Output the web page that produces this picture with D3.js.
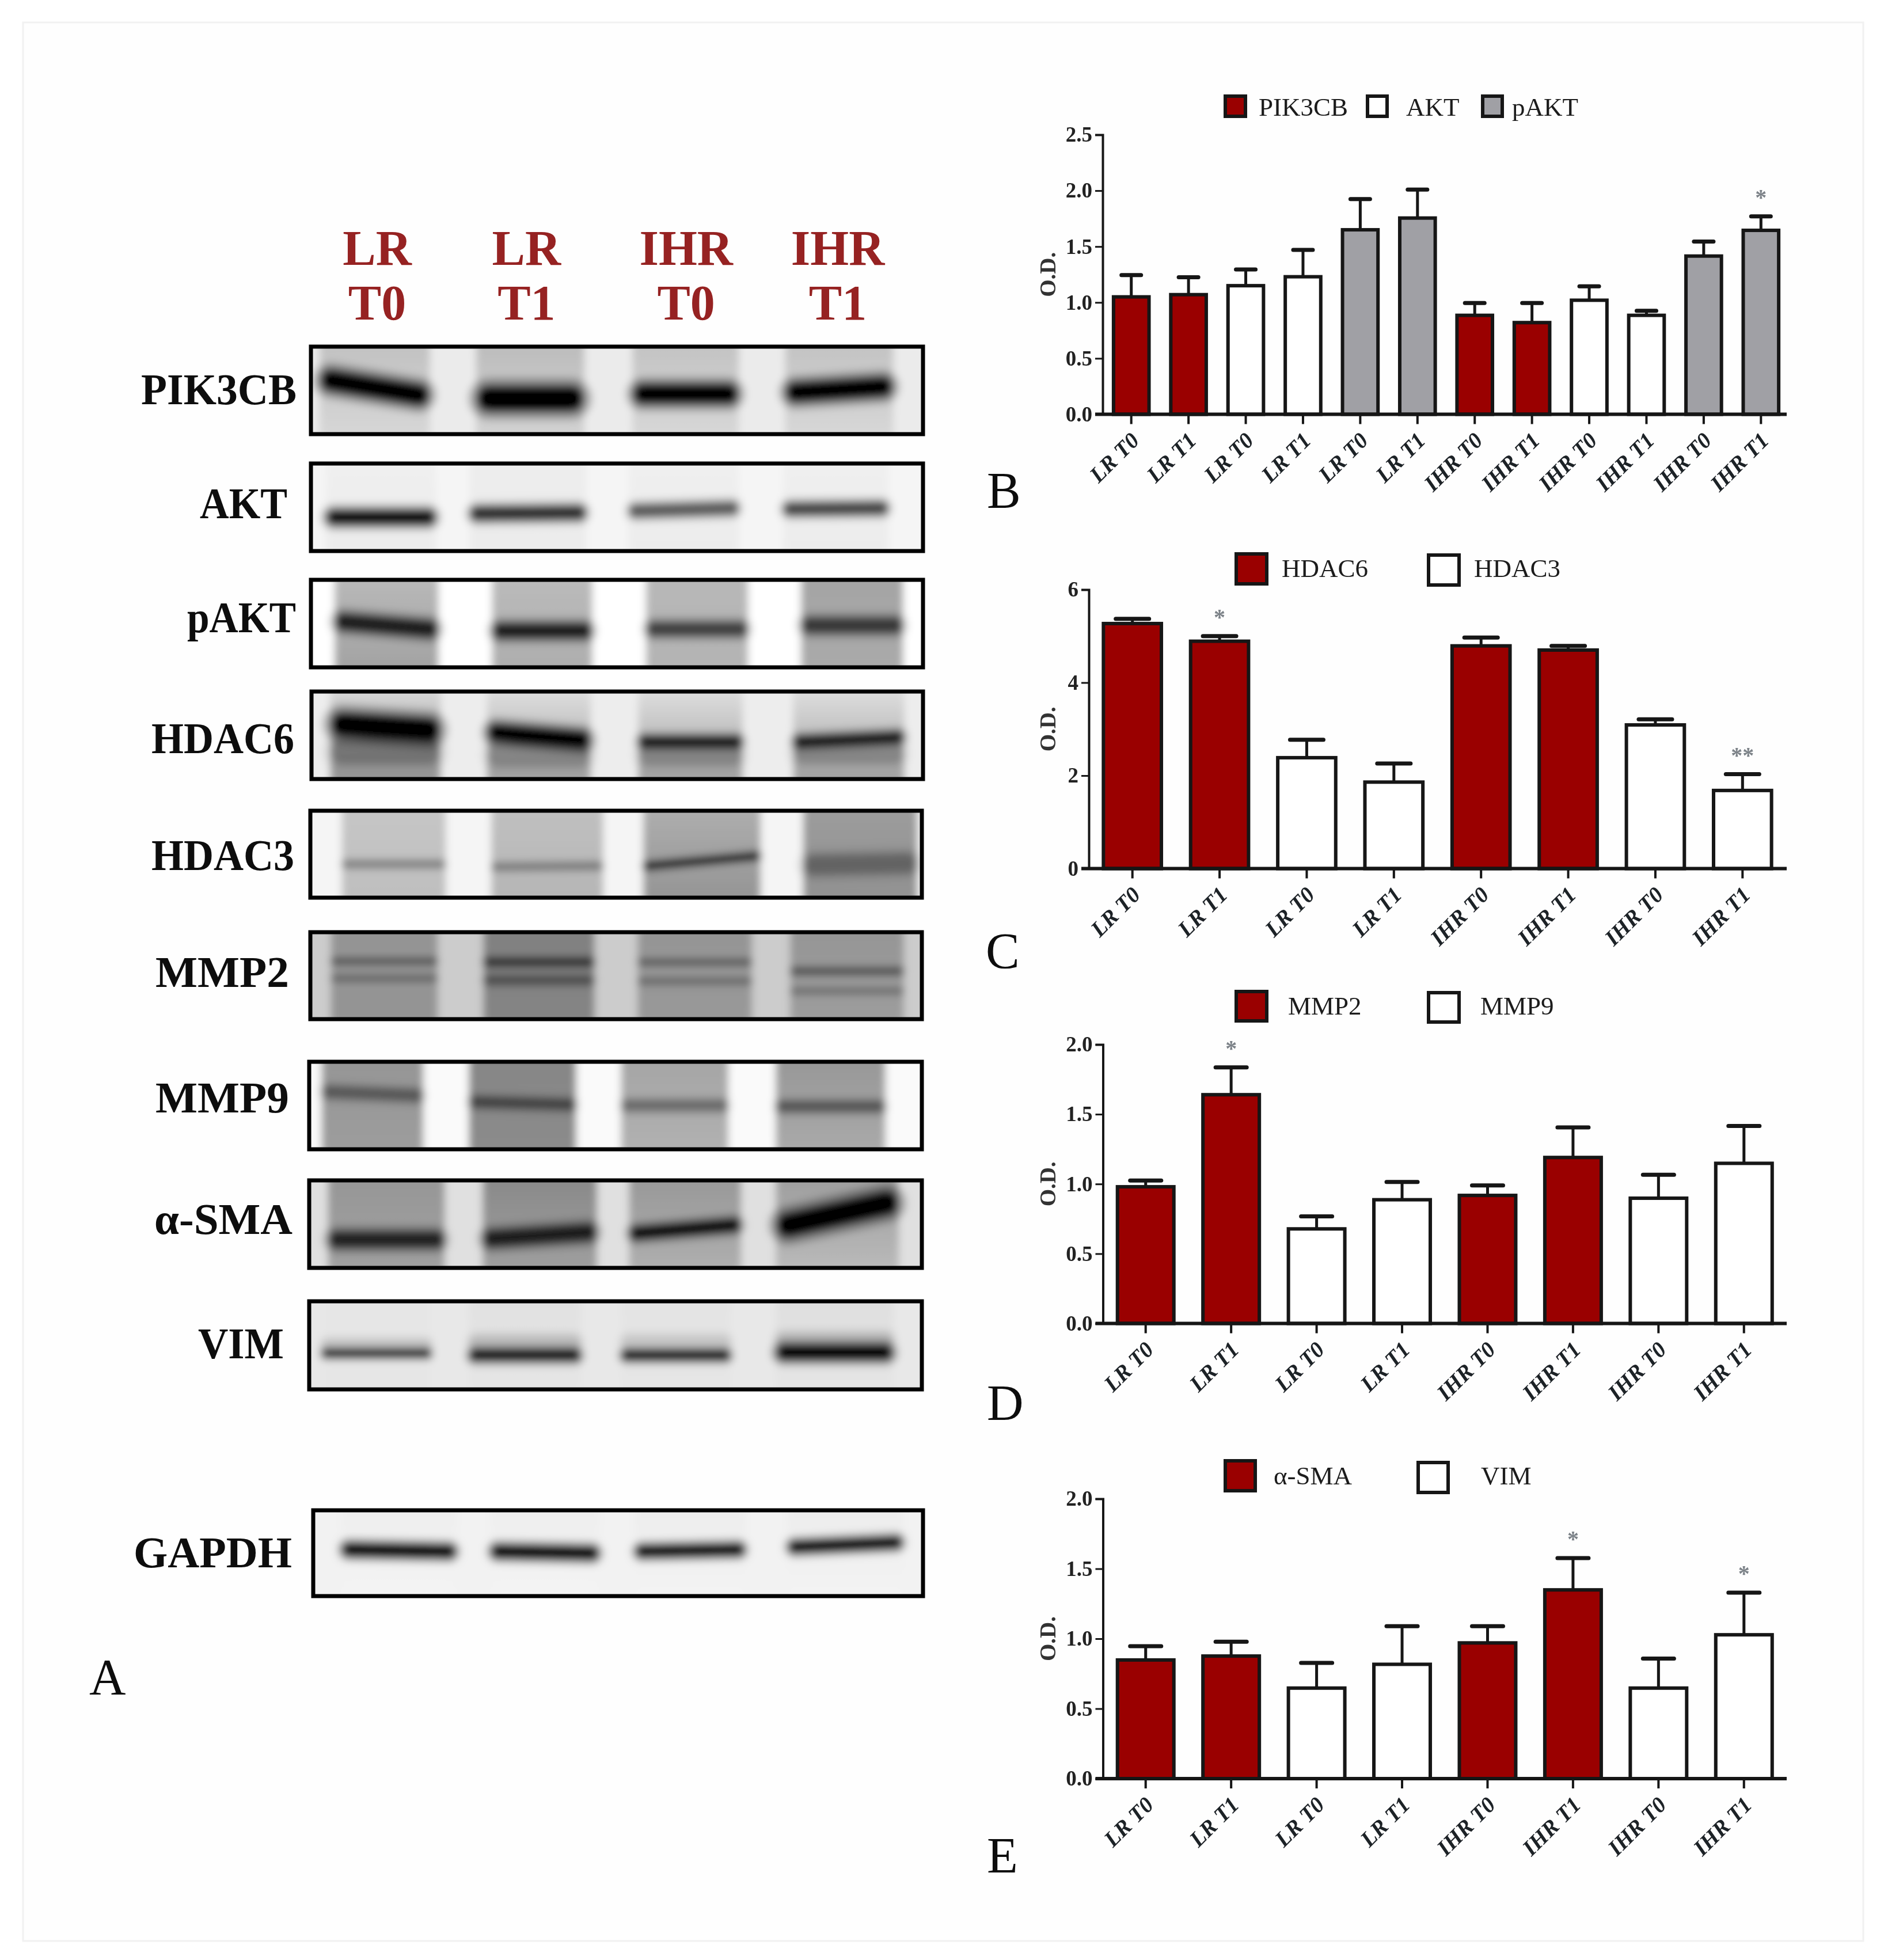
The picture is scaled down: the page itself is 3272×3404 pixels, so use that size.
<!DOCTYPE html>
<html>
<head>
<meta charset="utf-8">
<script src="https://cdnjs.cloudflare.com/ajax/libs/d3/7.8.5/d3.min.js"></script>
<style>
  html, body { margin:0; padding:0; background:#fff; }
  svg { display:block; }
  text { font-family:"Liberation Serif", serif; }
</style>
</head>
<body>
<svg id="fig" width="3272" height="3404"></svg>
<script>

const bCategories = ["LR T0","LR T1","LR T0","LR T1","LR T0","LR T1","IHR T0","IHR T1","IHR T0","IHR T1","IHR T0","IHR T1"];
const bSeries = ["PIK3CB","AKT","pAKT"];
const bGroup = [0,0,1,1,2,2,0,0,1,1,2,2];
const bValues = [1.05,1.07,1.15,1.23,1.65,1.755,0.885,0.82,1.02,0.885,1.415,1.645];
const bUpper = [1.245,1.225,1.295,1.47,1.925,2.01,0.995,0.995,1.145,0.925,1.545,1.77];
const bStars = ["","","","","","","","","","","","*"];
const bTicks = [0,0.5,1,1.5,2,2.5];

const cdeCategories = ["LR T0","LR T1","LR T0","LR T1","IHR T0","IHR T1","IHR T0","IHR T1"];
const cdeGroup = [0,0,1,1,0,0,1,1];

const cSeries = ["HDAC6","HDAC3"];
const cValues = [5.27,4.89,2.385,1.86,4.79,4.70,3.09,1.68];
const cUpper = [5.37,5.0,2.77,2.26,4.97,4.79,3.21,2.03];
const cStars = ["","*","","","","","","**"];
const cTicks = [0,2,4,6];

const dSeries = ["MMP2","MMP9"];
const dValues = [0.98,1.64,0.678,0.887,0.918,1.19,0.898,1.148];
const dUpper = [1.025,1.836,0.768,1.014,0.99,1.406,1.066,1.416];
const dStars = ["","*","","","","","",""];

const eSeries = ["\u03b1-SMA","VIM"];
const eValues = [0.848,0.876,0.647,0.817,0.97,1.349,0.647,1.028];
const eUpper = [0.946,0.978,0.827,1.089,1.089,1.576,0.858,1.329];
const eStars = ["","","","","","*","","*"];
const deTicks = [0,0.5,1,1.5,2];

// blots: lane edges and band migration in percent of the gel width / height, tones 0..1
const laneHeads = [["LR","T0"],["LR","T1"],["IHR","T0"],["IHR","T1"]];
const blotNames = ["PIK3CB","AKT","pAKT","HDAC6","HDAC3","MMP2","MMP9","\u03b1-SMA","VIM","GAPDH"];
const blotBackground = [0.08,0.04,0,0.07,0.04,0.2,0.02,0.12,0.09,0.05];
const blotLanes = [
  [[1.7,19.6],[27.1,44.7],[52.5,69.8],[77.3,94.9]],
  [[2.7,20.6],[26.1,45],[51.9,69.8],[77,94.1]],
  [[4.1,21],[29.7,46],[54.7,71.3],[79.9,96.5]],
  [[3.3,21.3],[28.8,45.7],[53.4,70.4],[78.6,96.7]],
  [[5.4,22.3],[29.7,47.9],[54.4,73.5],[80.4,99]],
  [[3.6,21],[28.4,46.5],[53.5,72.1],[78.3,96.8]],
  [[2.3,18.8],[26.2,43.6],[50.9,68.3],[76,93.8]],
  [[3.3,22.3],[28.4,47],[52.2,70.4],[76,96]],
  [[2.3,20.1],[26.2,44.4],[50.9,68.7],[76,95.1]],
  [[4.9,23.6],[29.2,46.9],[52.8,70.7],[77.7,96.4]]
];
const blotLaneTone = [
  [[0.26,0.14],[0.28,0.16],[0.25,0.14],[0.25,0.14]],
  [[0.06,0.08],[0.07,0.08],[0.06,0.08],[0.06,0.08]],
  [[0.26,0.38],[0.26,0.33],[0.28,0.3],[0.36,0.33]],
  [[0.1,0.48],[0.08,0.42],[0.08,0.42],[0.08,0.42]],
  [[0.22,0.26],[0.24,0.3],[0.3,0.44],[0.38,0.44]],
  [[0.42,0.42],[0.5,0.48],[0.42,0.4],[0.42,0.38]],
  [[0.42,0.38],[0.48,0.45],[0.36,0.3],[0.42,0.32]],
  [[0.42,0.36],[0.48,0.36],[0.42,0.3],[0.4,0.25]],
  [[0.1,0.1],[0.12,0.1],[0.11,0.1],[0.13,0.1]],
  [[0.07,0.04],[0.07,0.04],[0.08,0.04],[0.08,0.04]]
];
// lane, top left, top right, thickness, density
const blotBands = [
  [[0,39,55,18,1],[1,59,59,21,1],[2,54,54,17,1],[3,52,46,17,1]],
  [[0,61,61,13,0.9],[1,57,56,12,0.75],[2,54,51,11,0.55],[3,52,51,11,0.65]],
  [[0,48,56,14,0.8],[1,58,58,13,0.78],[2,56,56,12,0.58],[3,52,52,13,0.6]],
  [[0,38,44,20,1],[1,47,55,15,1],[2,57,57,10,0.85],[3,57,52,10,0.85],
   [0,68,68,20,0.25],[1,72,72,18,0.2],[2,72,72,16,0.2],[3,70,70,16,0.2]],
  [[0,61,61,6,0.3],[1,64,63,6,0.3],[2,63,52,6,0.95],[3,62,60,16,0.28]],
  [[0,34,34,5,0.4],[0,53,53,5,0.28],[1,35,35,7,0.58],[1,55,55,7,0.38],
   [2,35,35,5,0.36],[2,56,56,5,0.28],[3,45,45,6,0.42],[3,67,67,5,0.25]],
  [[0,35,39,10,0.36],[1,46,49,9,0.45],[2,50,50,9,0.32],[3,51,51,9,0.42]],
  [[0,67,67,14,0.72],[1,66,59,14,0.78],[2,60,51,11,0.95],[3,51,27,20,1]],
  [[0,59,59,7,0.85],[1,61,61,10,0.95],[2,61,61,9,0.9],[3,58,58,13,1],
   [0,50,50,10,0.12],[1,47,47,12,0.14],[2,47,47,12,0.1],[3,44,44,12,0.15]],
  [[0,46,48,12,1],[1,48,50,12,1],[2,48,46,11,1],[3,43,38,11,1]]
];

const RED = "#9a0000", GREY = "#a0a0a5", INK = "#141414";
const seriesFill = [RED, "#ffffff", GREY];
const secondFill = [RED, "#ffffff"];

let svg = d3.select("#fig");
let defs = svg.append("defs");
let tone = d3.scaleLinear().domain([0,1]).range(["#ffffff","#000000"]);

defs.append("filter").attr("id","soft").attr("x","-2%").attr("y","-2%").attr("width","104%").attr("height","104%")
    .append("feGaussianBlur").attr("stdDeviation",0.7);
defs.append("filter").attr("id","gel").attr("x","-5%").attr("y","-20%").attr("width","110%").attr("height","140%")
    .append("feGaussianBlur").attr("stdDeviation",7);

svg.append("rect").attr("width",3272).attr("height",3404).attr("fill","#ffffff");
svg.append("rect").attr("x",40).attr("y",39).attr("width",3196).attr("height",3332)
    .attr("fill","#fefefe").attr("stroke","#f1f1f1").attr("stroke-width",3);

let root = svg.append("g").attr("filter","url(#soft)");

// ---- panel A ----

// outer box of each blot
const blotBox = [
  [537,599,1606,757],[537,802,1606,960],[537,1004,1606,1162],[538,1198,1606,1356],
  [536,1405,1604,1562],[536,1616,1604,1773],[534,1841,1604,1999],[534,2047,1604,2205],
  [534,2257,1604,2416],[541,2620,1606,2775]
];
const blotLabelAt = [[515,702],[499,900],[514,1098],[511,1308],[511,1511],[502,1714],[502,1932],[508,2143],[493,2359],[507,2722]];
const blotLabelWidth = [270,152,189,248,248,232,232,240,149,275];

function draw_blot( i ){
    let box = blotBox[i];
    let x = d3.scaleLinear().domain([0,100]).range([box[0],box[2]]);
    let y = d3.scaleLinear().domain([0,100]).range([box[1],box[3]]);

    let clipId = "clip"+i;
    defs.append("clipPath").attr("id",clipId).append("rect")
        .attr("x",x(0)).attr("y",y(0)).attr("width",x(100)-x(0)).attr("height",y(100)-y(0));

    let g = root.append("g").attr("clip-path","url(#"+clipId+")");
    let gel = g.append("g").attr("filter","url(#gel)");

    gel.append("rect").attr("x",x(-5)).attr("y",y(-20)).attr("width",x(110)-x(0)).attr("height",y(140)-y(0))
        .attr("fill",tone(blotBackground[i]));

    blotLanes[i].forEach( function(l,j){
        let gid = "lane"+i+"_"+j;
        let grad = defs.append("linearGradient").attr("id",gid).attr("x1",0).attr("x2",0).attr("y1",0).attr("y2",1);
        grad.append("stop").attr("offset","0%").attr("stop-color",tone(blotLaneTone[i][j][0]));
        grad.append("stop").attr("offset","100%").attr("stop-color",tone(blotLaneTone[i][j][1]));
        gel.append("rect").attr("x",x(l[0])).attr("y",y(-20)).attr("width",x(l[1])-x(l[0])).attr("height",y(140)-y(0))
            .attr("fill","url(#"+gid+")");
    });

    let line = d3.line();
    // faint halo first, then the band itself
    [[2.2,0.28],[1.4,1]].forEach( function(pass){
        gel.append("g").selectAll("path").data(blotBands[i]).enter().append("path")
            .attr("d", function(b){
                let l = blotLanes[i][b[0]], w = (y(b[3])-y(0))*1.4;
                return line([[x(l[0])+w/2,y(b[1])],[x(l[1])-w/2,y(b[2])]]);
            })
            .attr("fill","none")
            .attr("stroke","#000000")
            .attr("stroke-opacity",function(b){ return b[4]*pass[1]; })
            .attr("stroke-linecap","round")
            .attr("stroke-width",function(b){ return (y(b[3])-y(0))*pass[0]; });
    });

    root.append("rect").attr("x",x(0)+3).attr("y",y(0)+3)
        .attr("width",x(100)-x(0)-6).attr("height",y(100)-y(0)-6)
        .attr("fill","none").attr("stroke","#050505").attr("stroke-width",7);

    root.append("text").attr("x",blotLabelAt[i][0]).attr("y",blotLabelAt[i][1])
        .attr("text-anchor","end").attr("font-weight","bold").attr("font-size",76)
        .attr("textLength",blotLabelWidth[i]).attr("lengthAdjust","spacingAndGlyphs")
        .attr("fill","#0a0a0a").text(blotNames[i]);
}
blotNames.forEach( function(n,i){ draw_blot(i); });

const headX = d3.scalePoint().domain(d3.range(4)).range([655,1460]);
const headShift = [0,-9,0,-5];
laneHeads.forEach( function(h,i){
    h.forEach( function(t,k){
        root.append("text").attr("x",headX(i)+headShift[i]).attr("y",460+k*95)
            .attr("text-anchor","middle").attr("font-weight","bold").attr("font-size",86)
            .attr("fill","#962320").text(t);
    });
});

// ---- bar panels ----

function draw_bars( o ){
    let y = d3.scaleLinear().domain([0,o.ticks[o.ticks.length-1]]).range([o.y0,o.y1]);
    let x = d3.scaleBand().domain(d3.range(o.cats.length)).range(o.xr).paddingInner(o.pad).paddingOuter(o.pad/2);
    let g = root.append("g");

    let ya = d3.axisLeft(y).tickValues(o.ticks).tickSize(13).tickPadding(5)
        .tickFormat(o.fmt);
    let yg = g.append("g").attr("transform","translate("+o.xr[0]+",0)").call(ya);
    yg.select(".domain").attr("stroke",INK).attr("stroke-width",4);
    yg.selectAll(".tick line").attr("stroke",INK).attr("stroke-width",3);
    yg.selectAll("text").attr("font-family","Liberation Serif").attr("font-size",37).attr("font-weight","bold")
        .attr("fill","#222222");

    let xa = d3.axisBottom(x).tickSize(17).tickSizeOuter(0).tickFormat(function(i){ return o.cats[i]; });
    let xg = g.append("g").attr("transform","translate(0,"+o.y0+")").call(xa);
    xg.select(".domain").remove();
    xg.selectAll(".tick line").attr("stroke",INK).attr("stroke-width",4);
    xg.selectAll("text")
        .attr("font-family","Liberation Serif").attr("font-size",39).attr("font-weight","bold").attr("font-style","italic")
        .attr("fill","#1c2026")
        .attr("text-anchor","end")
        .attr("y",0).attr("dy",0)
        .attr("transform","translate(16,"+o.labelDrop+") rotate(-45)");

    let err = g.append("g").selectAll("g").data(o.values).enter().append("g");
    err.append("line")
        .attr("x1",function(d,i){ return x(i)+x.bandwidth()/2; })
        .attr("x2",function(d,i){ return x(i)+x.bandwidth()/2; })
        .attr("y1",function(d){ return y(d); })
        .attr("y2",function(d,i){ return y(o.upper[i]); })
        .attr("stroke",INK).attr("stroke-width",5);
    err.append("line")
        .attr("x1",function(d,i){ return x(i)+x.bandwidth()/2-o.cap; })
        .attr("x2",function(d,i){ return x(i)+x.bandwidth()/2+o.cap; })
        .attr("y1",function(d,i){ return y(o.upper[i]); })
        .attr("y2",function(d,i){ return y(o.upper[i]); })
        .attr("stroke",INK).attr("stroke-width",7).attr("stroke-linecap","round");

    g.append("g").selectAll("rect").data(o.values).enter().append("rect")
        .attr("x",function(d,i){ return x(i); })
        .attr("width",x.bandwidth())
        .attr("y",function(d){ return y(d); })
        .attr("height",function(d){ return y(0)-y(d); })
        .attr("fill",function(d,i){ return o.fills[o.group[i]]; })
        .attr("stroke",INK).attr("stroke-width",6);

    g.append("line").attr("x1",o.xr[0]-13).attr("x2",3103).attr("y1",o.y0).attr("y2",o.y0)
        .attr("stroke",INK).attr("stroke-width",6);

    g.append("g").selectAll("text").data(o.stars).enter().append("text")
        .attr("x",function(d,i){ return x(i)+x.bandwidth()/2; })
        .attr("y",function(d,i){ return y(o.upper[i])-20; })
        .attr("text-anchor","middle").attr("font-size",40).attr("font-weight","bold")
        .attr("fill","#7c8288")
        .text(function(d){ return d; });

    g.append("text")
        .attr("transform","translate(1833,"+((o.y0+o.y1)/2)+") rotate(-90)")
        .attr("text-anchor","middle").attr("font-size",39).attr("font-weight","bold")
        .attr("fill","#333333").text("O.D.");

    // legend
    o.legend.forEach( function(l,i){
        g.append("rect").attr("x",l.box[0]+3).attr("y",l.box[1]+3)
            .attr("width",l.box[2]-l.box[0]-6).attr("height",l.box[3]-l.box[1]-6)
            .attr("fill",o.fills[i]).attr("stroke",INK).attr("stroke-width",6);
        g.append("text").attr("x",l.tx).attr("y",l.ty).attr("font-size",45).attr("fill","#1a1a1a").text(o.series[i]);
    });

    root.append("text").attr("x",o.letter[0]).attr("y",o.letter[1]).attr("font-size",88).attr("fill","#0a0a0a").text(o.letterText);
}

draw_bars({ cats:bCategories, group:bGroup, values:bValues, upper:bUpper, stars:bStars, ticks:bTicks, series:bSeries,
    fills:seriesFill, fmt:d3.format(".1f"), y0:719.5, y1:234, xr:[1915,3108], pad:0.38, cap:17, labelDrop:48,
    legend:[ {box:[2125,164,2166,205],tx:2186,ty:201},{box:[2372,164,2412,205],tx:2442,ty:201},{box:[2572,164,2612,205],tx:2626,ty:201} ],
    letter:[1714,881], letterText:"B" });

draw_bars({ cats:cdeCategories, group:cdeGroup, values:cValues, upper:cUpper, stars:cStars, ticks:cTicks, series:cSeries,
    fills:secondFill, fmt:d3.format("d"), y0:1508.5, y1:1024, xr:[1891,3102], pad:0.335, cap:29, labelDrop:48,
    legend:[ {box:[2144,959,2203,1017],tx:2226,ty:1002},{box:[2478,961,2537,1019],tx:2560,ty:1002} ],
    letter:[1712,1681], letterText:"C" });

draw_bars({ cats:cdeCategories, group:cdeGroup, values:dValues, upper:dUpper, stars:dStars, ticks:deTicks, series:dSeries,
    fills:secondFill, fmt:d3.format(".1f"), y0:2298.5, y1:1814, xr:[1915.5,3103], pad:0.34, cap:27, labelDrop:48,
    legend:[ {box:[2144,1719,2203,1776],tx:2237,ty:1762},{box:[2478,1721,2537,1778],tx:2571,ty:1762} ],
    letter:[1714,2466], letterText:"D" });

draw_bars({ cats:cdeCategories, group:cdeGroup, values:eValues, upper:eUpper, stars:eStars, ticks:deTicks, series:eSeries,
    fills:secondFill, fmt:d3.format(".1f"), y0:3089, y1:2603, xr:[1915.5,3103], pad:0.34, cap:27, labelDrop:48,
    legend:[ {box:[2125,2534,2183,2592],tx:2212,ty:2578},{box:[2460,2537,2518,2595],tx:2572,ty:2578} ],
    letter:[1714,3252], letterText:"E" });

root.append("text").attr("x",155).attr("y",2942).attr("font-size",88).attr("fill","#0a0a0a").text("A");

</script>
</body>
</html>
